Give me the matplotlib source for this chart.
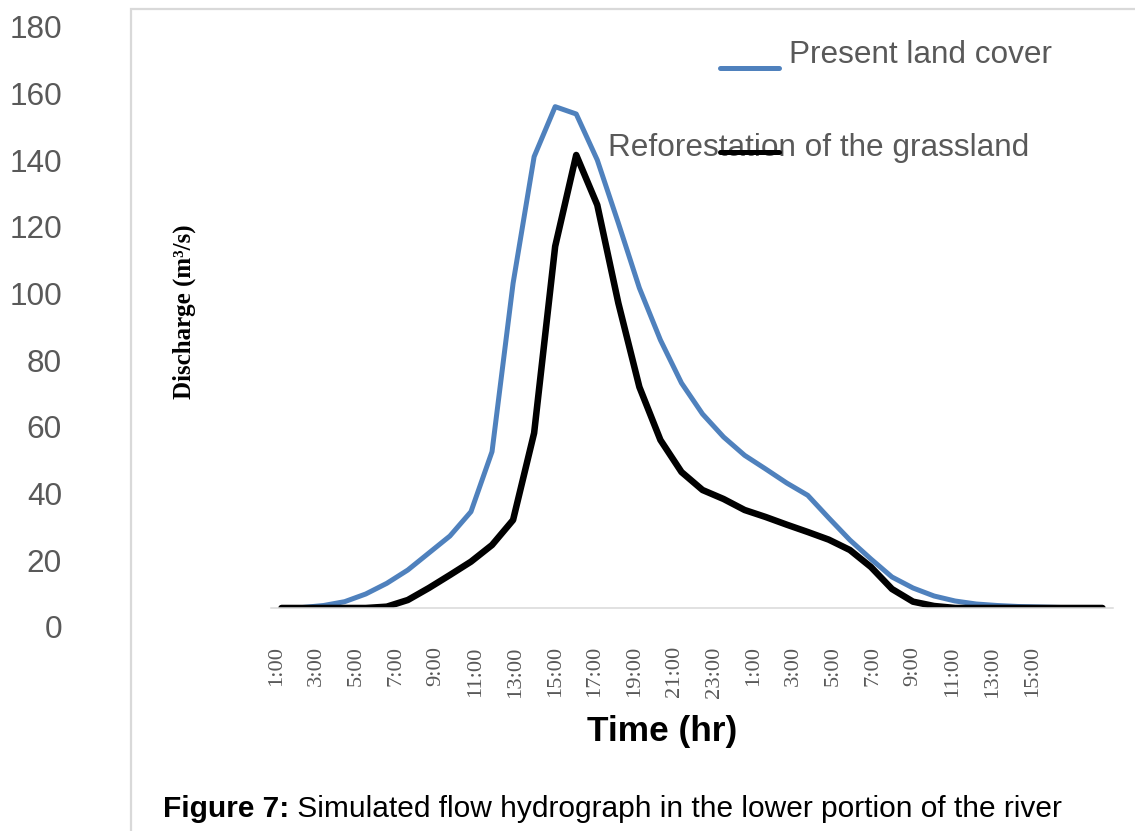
import matplotlib
matplotlib.use('Agg')
import matplotlib.pyplot as plt
from matplotlib import font_manager
from matplotlib.lines import Line2D
from matplotlib.patches import Rectangle
from matplotlib.transforms import blended_transform_factory, ScaledTranslation

# hourly discharge (m3/s)
present_cover = [0, 0.15, 0.75, 1.9, 4.2, 7.4, 11.4, 16.5, 21.6, 28.9,
                 46.9, 97.4, 135.4, 150.4, 148.2, 134.4, 115.5, 96.0, 80.4, 67.5,
                 58.2, 51.3, 45.8, 41.7, 37.5, 33.8, 27.0, 20.4, 14.7, 9.3,
                 6.0, 3.6, 2.1, 1.2, 0.75, 0.45, 0.3, 0.15, 0, 0]
reforestation = [0, 0, 0, 0, 0, 0.4, 2.4, 6.0, 9.9, 13.9,
                 18.9, 26.4, 52.5, 108.5, 135.9, 120.9, 91.5, 66.3, 50.4, 40.8,
                 35.4, 32.7, 29.4, 27.3, 25.0, 22.8, 20.5, 17.4, 12.3, 5.7,
                 1.9, 0.6, 0, 0, 0, 0, 0, 0, 0, 0]

time_labels = ['1:00', '3:00', '5:00', '7:00', '9:00', '11:00', '13:00', '15:00',
               '17:00', '19:00', '21:00', '23:00', '1:00', '3:00', '5:00', '7:00',
               '9:00', '11:00', '13:00', '15:00']
label_hours = list(range(0, 2 * len(time_labels), 2))
y_ticks = [0, 20, 40, 60, 80, 100, 120, 140, 160, 180]

grey_text = '#595959'
blue = '#4f81bd'

names = {f.name for f in font_manager.fontManager.ttflist}
if 'Liberation Sans Narrow' in names:
    cap_family, cap_size = 'Liberation Sans Narrow', 25
else:
    cap_family, cap_size = 'Liberation Sans', 21.5

W, H = 1135, 831
fig = plt.figure(figsize=(W / 100, H / 100), dpi=100)
fig.patch.set_facecolor('white')

# light grey chart frame
fig.patches.append(Rectangle((131 / W, -0.1), 1.2, 1.1 - 9 / H, transform=fig.transFigure,
                             fill=False, edgecolor='#d9d9d9', linewidth=1.6))

ax = fig.add_axes([271 / W, (H - 608) / H, 842 / W, 600 / H])
x = list(range(len(present_cover)))
ax.plot(x, present_cover, color=blue, lw=3.6, solid_joinstyle='round', solid_capstyle='round')
ax.plot(x, reforestation, color='black', lw=4.7, solid_joinstyle='round', solid_capstyle='round')
ax.set_xlim(-0.5, len(x) - 0.5)
ax.set_ylim(0, 180)
ax.set_xticks([])
ax.set_yticks([])
for s in ['top', 'right', 'left']:
    ax.spines[s].set_visible(False)
ax.spines['bottom'].set_color('#d9d9d9')
ax.spines['bottom'].set_linewidth(1.1)
ax.patch.set_alpha(0)

# y labels sit a little below their values in the original
ytr = blended_transform_factory(ax.transAxes, ax.transData) + \
    ScaledTranslation(0, -0.225, fig.dpi_scale_trans)
for v in y_ticks:
    ax.text(-209 / 842, v, str(v), transform=ytr, ha='right', va='center',
            fontsize=22.7, color=grey_text, family='Liberation Sans', clip_on=False)

# time axis labels
ax2 = ax.twiny()
ax2.set_xlim(-0.3, 42.07)
ax2.xaxis.set_ticks_position('bottom')
ax2.set_xticks(label_hours)
ax2.set_xticklabels(time_labels, rotation=90, fontsize=16.2, color=grey_text,
                    family='Liberation Serif')
ax2.tick_params(axis='x', length=0, pad=27.5)
for s in ax2.spines.values():
    s.set_visible(False)

fig.text(662 / W, 1 - 731 / H, 'Time (hr)', ha='center', va='center',
         fontsize=25.4, fontweight='bold', family='Liberation Sans')
fig.text(184 / W, 1 - 312 / H, 'Discharge (m³/s)', rotation=90, ha='center', va='center',
         fontsize=18, fontweight='bold', family='Liberation Serif')

# legend, drawn by hand to keep the original layout
fig.text(789 / W, 1 - 62.7 / H, 'Present land cover', ha='left', va='baseline',
         fontsize=22.7, color=grey_text, family='Liberation Sans')
fig.text(608 / W, 1 - 156 / H, 'Reforestation of the grassland', ha='left', va='baseline',
         fontsize=22.7, color=grey_text, family='Liberation Sans')
fig.add_artist(Line2D([720 / W, 779 / W], [1 - 67.7 / H, 1 - 67.7 / H], transform=fig.transFigure,
                      color=blue, lw=3.6, solid_capstyle='round'))
fig.add_artist(Line2D([720 / W, 779 / W], [1 - 152 / H, 1 - 152 / H], transform=fig.transFigure,
                      color='black', lw=3.6, solid_capstyle='round', zorder=5))

# caption
t1 = fig.text(163 / W, 1 - 823 / H, 'Figure 7:', ha='left', va='bottom',
              fontsize=cap_size, fontweight='bold', family=cap_family)
ax.annotate(' Simulated flow hydrograph in the lower portion of the river',
            xy=(1, 0), xycoords=t1, ha='left', va='bottom',
            fontsize=cap_size, family=cap_family, annotation_clip=False)

fig.savefig('out.png', dpi=100)
